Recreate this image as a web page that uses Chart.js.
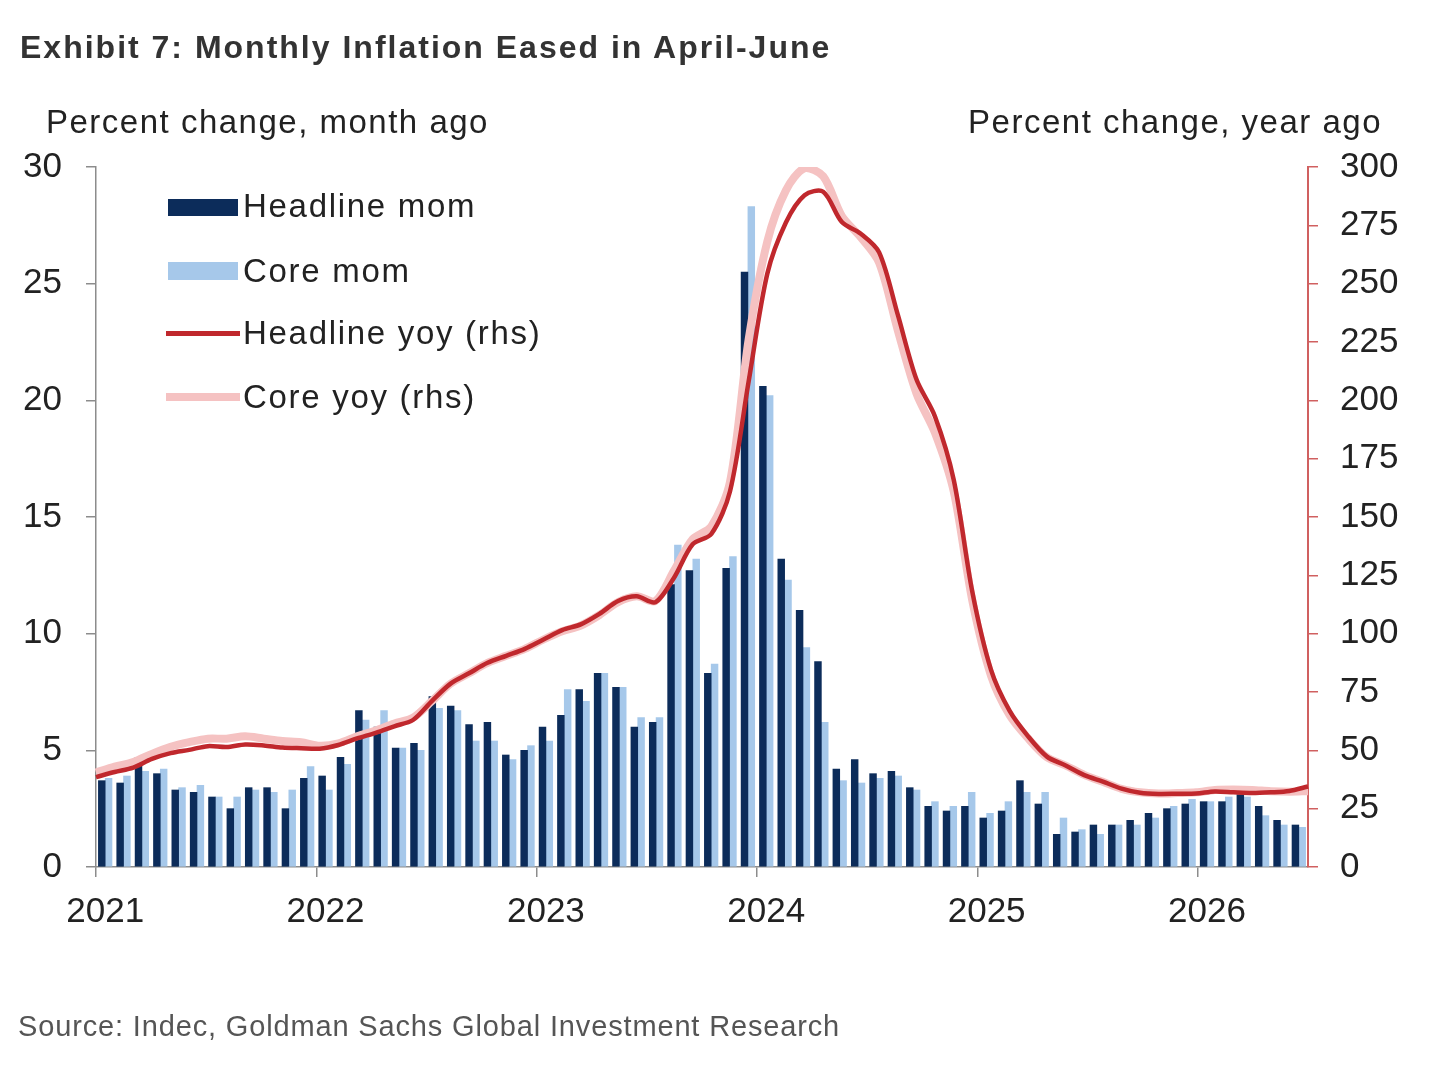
<!DOCTYPE html>
<html>
<head>
<meta charset="utf-8">
<script src="https://cdn.jsdelivr.net/npm/chart.js@4.4.1/dist/chart.umd.min.js"></script>
<style>
  html, body { margin: 0; padding: 0; background: #ffffff; }
  #wrap { position: relative; width: 1440px; height: 1071px; overflow: hidden;
          font-family: "Liberation Sans", Arial, sans-serif; color: #222; }
  #c { position: absolute; left: 0; top: 0; }
  .t { position: absolute; white-space: nowrap; line-height: 1; }
  #title { left: 20px; top: 31px; font-size: 32px; font-weight: bold; color: #333; letter-spacing: 2px; }
  #ltitle { left: 46px; top: 105px; font-size: 33px; color: #222; letter-spacing: 1.5px; }
  #rtitle { right: 58px; top: 105px; font-size: 33px; color: #222; letter-spacing: 1.5px; }
  #source { left: 18px; top: 1012px; font-size: 29px; color: #555; letter-spacing: 0.85px; }
  .lg { position: absolute; font-size: 33px; color: #222; white-space: nowrap; line-height: 1; letter-spacing: 1.7px; }
  .sw { position: absolute; }
</style>
</head>
<body>
<div id="wrap">
  <canvas id="c" width="1440" height="1071"></canvas>
  <div class="t" id="title">Exhibit 7: Monthly Inflation Eased in April-June</div>
  <div class="t" id="ltitle">Percent change, month ago</div>
  <div class="t" id="rtitle">Percent change, year ago</div>

  <div class="sw" style="left:168px; top:199px; width:70px; height:17px; background:#0c2c5a;"></div>
  <div class="lg" style="left:243px; top:189px;">Headline mom</div>
  <div class="sw" style="left:168px; top:262px; width:70px; height:18px; background:#a6c8ea;"></div>
  <div class="lg" style="left:243px; top:254px;">Core mom</div>
  <div class="sw" style="left:166px; top:331px; width:74px; height:5px; background:#c0282d;"></div>
  <div class="lg" style="left:243px; top:316px;">Headline yoy (rhs)</div>
  <div class="sw" style="left:166px; top:393px; width:74px; height:8px; background:#f5c2c2;"></div>
  <div class="lg" style="left:243px; top:380px;">Core yoy (rhs)</div>

  <div class="t" id="source">Source: Indec, Goldman Sachs Global Investment Research</div>
</div>
<script>
// ---- Data (monthly, Jan 2021 - Jun 2026) ----
const years = ['2021', '2022', '2023', '2024', '2025', '2026'];
const monthNames = ['Jan','Feb','Mar','Apr','May','Jun','Jul','Aug','Sep','Oct','Nov','Dec'];

const headlineMom = [
  3.7, 3.6, 4.7, 4.0, 3.3, 3.2, 3.0, 2.5, 3.4, 3.4, 2.5, 3.8,
  3.9, 4.7, 6.7, 6.0, 5.1, 5.3, 7.3, 6.9, 6.1, 6.2, 4.8, 5.0,
  6.0, 6.5, 7.6, 8.3, 7.7, 6.0, 6.2, 12.1, 12.7, 8.3, 12.8, 25.5,
  20.6, 13.2, 11.0, 8.8, 4.2, 4.6, 4.0, 4.1, 3.4, 2.6, 2.4, 2.6,
  2.1, 2.4, 3.7, 2.7, 1.4, 1.5, 1.8, 1.8, 2.0, 2.3, 2.5, 2.7,
  2.8, 2.8, 3.1, 2.6, 2.0, 1.8
];
const coreMom = [
  3.8, 3.9, 4.1, 4.2, 3.4, 3.5, 3.0, 3.0, 3.3, 3.2, 3.3, 4.3,
  3.3, 4.4, 6.3, 6.7, 5.1, 5.0, 6.8, 6.7, 5.4, 5.4, 4.6, 5.2,
  5.4, 7.6, 7.1, 8.3, 7.7, 6.4, 6.4, 13.8, 13.2, 8.7, 13.3, 28.3,
  20.2, 12.3, 9.4, 6.2, 3.7, 3.6, 3.8, 3.9, 3.3, 2.8, 2.6, 3.2,
  2.3, 2.8, 3.2, 3.2, 2.1, 1.6, 1.4, 1.8, 1.8, 2.1, 2.6, 2.9,
  2.8, 3.0, 3.0, 2.2, 1.8, 1.7
];
const headlineYoy = [
  38.5, 40.7, 42.6, 46.3, 48.8, 50.2, 51.8, 51.4, 52.5, 52.1, 51.2, 50.9,
  50.7, 52.3, 55.1, 57.5, 60.3, 63.0, 71.0, 78.5, 83.0, 87.5, 90.5, 93.5,
  97.5, 101.5, 104.0, 108.5, 114.0, 116.0, 113.5, 124.0, 138.3, 142.7, 160.9, 208.0,
  254.2, 276.2, 287.9, 289.4, 276.4, 271.5, 263.4, 236.7, 209.0, 193.0, 166.0, 117.8,
  84.5, 66.9, 55.9, 47.3, 43.5, 39.4, 36.6, 33.6, 31.8, 31.3, 31.4, 31.5,
  32.4, 32.0, 31.7, 32.0, 32.6, 34.5
];
const coreYoy = [
  40.5, 43.0, 45.0, 48.5, 51.5, 53.5, 55.0, 55.0, 56.0, 55.0, 54.0, 53.5,
  52.0, 53.0, 56.0, 58.5, 61.5, 64.0, 71.0, 78.5, 83.0, 87.5, 90.5, 93.5,
  97.5, 101.0, 103.5, 108.0, 113.5, 116.0, 114.0, 127.0, 140.5, 146.0, 165.0, 226.0,
  268.0, 290.0, 299.5, 296.0, 279.0, 270.0, 259.0, 230.0, 203.0, 186.0, 161.0, 114.0,
  82.0, 65.0, 55.0, 47.0, 43.5, 39.5, 36.5, 33.5, 32.0, 31.5, 31.7, 32.0,
  33.0, 33.2, 33.0, 32.5, 32.3, 32.5
];

const monthLabels = [];
for (let i = 0; i < headlineMom.length; i++) {
  monthLabels.push(monthNames[i % 12] + ' ' + years[Math.floor(i / 12)]);
}

const AX = '#8c8c8c';
const RED_AX = '#d06060';
const FONT = '"Liberation Sans", Arial, sans-serif';
const TICK_FONT = { family: FONT, size: 35 };

new Chart(document.getElementById('c'), {
  type: 'bar',
  data: {
    labels: monthLabels,
    datasets: [
      { type: 'line', label: 'Headline yoy (rhs)', data: headlineYoy, xAxisID: 'xLine', yAxisID: 'y1',
        borderColor: '#c0282d', borderWidth: 4.5, pointRadius: 0, tension: 0.3, order: 0 },
      { type: 'line', label: 'Core yoy (rhs)', data: coreYoy, xAxisID: 'xLine', yAxisID: 'y1',
        borderColor: '#f5c2c2', borderWidth: 8, pointRadius: 0, tension: 0.3, order: 1 },
      { label: 'Headline mom', data: headlineMom, xAxisID: 'x', yAxisID: 'y',
        backgroundColor: '#0c2c5a', barThickness: 6.8, order: 2 },
      { label: 'Core mom', data: coreMom, xAxisID: 'x', yAxisID: 'y',
        backgroundColor: '#a6c8ea', barThickness: 6.8, order: 2 }
    ]
  },
  options: {
    responsive: false,
    animation: false,
    layout: { padding: { left: 0, right: 0, top: 167, bottom: 134 } },
    plugins: { legend: { display: false }, tooltip: { enabled: false } },
    scales: {
      x: {
        type: 'category',
        offset: true,
        grid: {
          offset: true, drawOnChartArea: false, tickLength: 10, lineWidth: 1.5,
          color: (ctx) => (ctx.index !== undefined && ctx.index % 12 === 0) ? AX : 'rgba(0,0,0,0)'
        },
        border: { display: true, color: AX, width: 1.5 },
        ticks: {
          autoSkip: false, maxRotation: 0, minRotation: 0, padding: 14,
          color: '#222', font: TICK_FONT,
          callback: (v, i) => (i % 12 === 0) ? years[i / 12] : ''
        },
        afterFit: (s) => { s.height = 70; }
      },
      xLine: {
        type: 'category',
        labels: monthLabels,
        offset: false,
        display: false
      },
      y: {
        type: 'linear', position: 'left', min: 0, max: 30,
        ticks: { stepSize: 5, padding: 24, color: '#222', font: TICK_FONT },
        grid: { drawOnChartArea: false, tickLength: 10, color: AX, lineWidth: 1.5 },
        border: { display: true, color: AX, width: 1.5 },
        afterFit: (s) => { s.width = 96; }
      },
      y1: {
        type: 'linear', position: 'right', min: 0, max: 300,
        ticks: { stepSize: 25, padding: 22, color: '#222', font: TICK_FONT },
        grid: { drawOnChartArea: false, tickLength: 10, color: RED_AX, lineWidth: 1.5 },
        border: { display: true, color: RED_AX, width: 2 },
        afterFit: (s) => { s.width = 132; }
      }
    }
  }
});
</script>
</body>
</html>
